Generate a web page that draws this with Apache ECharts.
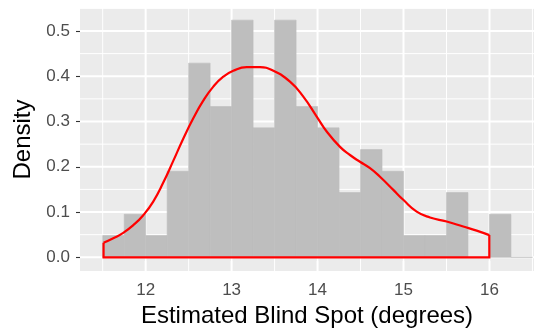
<!DOCTYPE html>
<html>
<head>
<meta charset="utf-8">
<script src="https://cdn.jsdelivr.net/npm/echarts@6/dist/echarts.min.js"></script>
<style>
  html, body { margin: 0; padding: 0; background: #fff; }
  #chart { width: 548px; height: 329px; }
</style>
</head>
<body>
<div id="chart"></div>
<script>
// histogram bins (left edge) and density height, width 0.25
const binStart = [11.5, 11.75, 12.0, 12.25, 12.5, 12.75, 13.0, 13.25, 13.5, 13.75,
                  14.0, 14.25, 14.5, 14.75, 15.0, 15.25, 15.5, 15.75, 16.0, 16.25]
const binDensity = [0.048, 0.095, 0.048, 0.190, 0.429, 0.333, 0.524, 0.286, 0.524, 0.333,
                    0.286, 0.143, 0.238, 0.190, 0.048, 0.048, 0.143, 0, 0.095, 0]
const binWidth = 0.25

// kernel density outline (red)
const densX = [11.51, 11.623, 11.739, 11.856, 11.972, 12.088, 12.205, 12.321, 12.437, 12.554,
               12.670, 12.787, 12.903, 13.019, 13.175, 13.330, 13.485, 13.679, 13.834, 13.990,
               14.106, 14.261, 14.377, 14.493, 14.610, 14.726, 14.881, 14.997, 15.153, 15.308,
               15.502, 15.695, 15.851, 15.998]
const densY = [0.032, 0.042, 0.054, 0.071, 0.093, 0.123, 0.165, 0.213, 0.262, 0.307,
               0.346, 0.377, 0.399, 0.412, 0.420, 0.420, 0.412, 0.388, 0.355, 0.311,
               0.278, 0.244, 0.226, 0.211, 0.197, 0.178, 0.149, 0.127, 0.101, 0.088,
               0.079, 0.068, 0.059, 0.049]

const xTicks = [12, 13, 14, 15, 16]
const xMinor = [11.5, 12.5, 13.5, 14.5, 15.5, 16.5]
const yTicks = [0, 0.1, 0.2, 0.3, 0.4, 0.5]
const yMinor = [0.05, 0.15, 0.25, 0.35, 0.45, 0.55]

const font = 'Liberation Sans, Arial, Helvetica, sans-serif'
const labelColor = '#4D4D4D'

const myChart = echarts.init(document.getElementById('chart'), null, { renderer: 'canvas' })

function gridSeries(values, vertical, width) {
  return {
    type: 'custom',
    z: 1,
    silent: true,
    data: values.map(v => vertical ? [v, 0] : [12, v]),
    renderItem(params, api) {
      const cs = params.coordSys
      const p = api.coord([api.value(0), api.value(1)])
      if (vertical && (p[0] < cs.x || p[0] > cs.x + cs.width)) return
      if (!vertical && (p[1] < cs.y || p[1] > cs.y + cs.height)) return
      const shape = vertical
        ? { x1: p[0], y1: cs.y, x2: p[0], y2: cs.y + cs.height }
        : { x1: cs.x, y1: p[1], x2: cs.x + cs.width, y2: p[1] }
      return { type: 'line', shape, style: { stroke: '#FFFFFF', lineWidth: width } }
    }
  }
}

const option = {
  animation: false,
  grid: {
    left: 80, right: 14, top: 8, bottom: 58,
    containLabel: false,
    outerBoundsMode: 'none',
    show: true, backgroundColor: '#EBEBEB', borderWidth: 0
  },
  xAxis: {
    type: 'value',
    min: 11.236, max: 16.518,
    name: 'Estimated Blind Spot (degrees)',
    nameLocation: 'middle',
    nameGap: 33,
    nameTextStyle: { color: '#000', fontSize: 24, fontFamily: font },
    axisLine: { show: false },
    splitLine: { show: false },
    axisTick: { show: true, length: 4, customValues: xTicks, lineStyle: { color: '#333', width: 1.1 } },
    axisLabel: { customValues: xTicks, margin: 11, color: labelColor, fontSize: 17, fontFamily: font }
  },
  yAxis: {
    type: 'value',
    min: -0.0303, max: 0.5508,
    name: 'Density',
    nameLocation: 'middle',
    nameGap: 44,
    nameTextStyle: { color: '#000', fontSize: 24, fontFamily: font },
    axisLine: { show: false },
    splitLine: { show: false },
    axisTick: { show: true, length: 4, customValues: yTicks, lineStyle: { color: '#333', width: 1.1 } },
    axisLabel: {
      customValues: yTicks, margin: 10, color: labelColor, fontSize: 17, fontFamily: font,
      formatter: v => v.toFixed(1)
    }
  },
  series: [
    gridSeries(xMinor, true, 1),
    gridSeries(yMinor, false, 1),
    gridSeries(xTicks, true, 2),
    gridSeries(yTicks, false, 2),
    {
      // histogram
      type: 'custom',
      z: 2,
      data: binStart.map((s, i) => [s, binDensity[i], s + binWidth]),
      renderItem(params, api) {
        const p0 = api.coord([api.value(0), 0])
        const p1 = api.coord([api.value(2), api.value(1)])
        return {
          type: 'rect',
          shape: { x: p0[0], y: p1[1], width: p1[0] - p0[0], height: p0[1] - p1[1] },
          style: { fill: '#BEBEBE', stroke: '#BEBEBE', lineWidth: 0.6 }
        }
      }
    },
    {
      // density curve
      type: 'line',
      z: 3,
      data: densX.map((x, i) => [x, densY[i]]),
      smooth: 0.5,
      symbol: 'none',
      lineStyle: { color: '#FF0000', width: 2.2 }
    },
    {
      // closing edges of the density polygon
      type: 'line',
      z: 3,
      data: [
        [densX[densX.length - 1], densY[densY.length - 1]],
        [densX[densX.length - 1], 0],
        [densX[0], 0],
        [densX[0], densY[0]]
      ],
      symbol: 'none',
      lineStyle: { color: '#FF0000', width: 2.2, join: 'miter' }
    }
  ]
}

myChart.setOption(option)
</script>
</body>
</html>
